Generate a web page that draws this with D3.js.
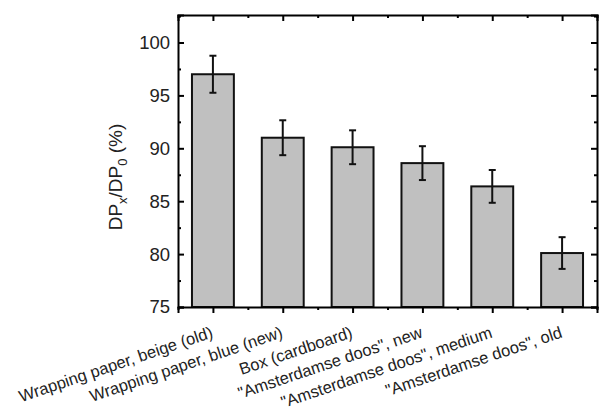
<!DOCTYPE html>
<html>
<head>
<meta charset="utf-8">
<script src="https://cdn.jsdelivr.net/npm/d3@7"></script>
<style>
  body { margin: 0; background: #fff; }
  text { font-family: "Liberation Sans", Arial, sans-serif; fill: #222; }
</style>
</head>
<body>
<div id="chart"></div>
<script>
// sample names, DP ratio and error
var categories = [
    "Wrapping paper, beige (old)",
    "Wrapping paper, blue (new)",
    "Box (cardboard)",
    "\"Amsterdamse doos\", new",
    "\"Amsterdamse doos\", medium",
    "\"Amsterdamse doos\", old"
];
var values = [97.0, 91.0, 90.1, 88.6, 86.4, 80.1];
var errors = [1.75, 1.65, 1.6, 1.6, 1.55, 1.5];
var yTicks = [75, 80, 85, 90, 95, 100];

var margin = { top: 15, right: 4, bottom: 105, left: 178 },
    width = 601 - margin.left - margin.right,
    height = 412 - margin.top - margin.bottom;

var svg = d3.select("#chart")
    .append("svg")
    .attr("width", 601)
    .attr("height", 412)
    .append("g")
    .attr("transform", "translate(" + margin.left + "," + margin.top + ")");

// x is numeric 1..6 like Origin does it
var x = d3.scaleLinear().domain([0.5, 6.5]).range([0, width]);
var y = d3.scaleLinear().domain([75, 102.6]).range([height, 0]);
var barW = x(1.3) - x(0.7);

var idx = categories.map(function (d, i) { return i + 1; });
var minorX = d3.range(0.5, 6.51, 0.5).filter(function (v) { return v % 1 != 0; });
var minorY = d3.range(77.5, 102.6, 5);

// bars
svg.append("g")
    .selectAll("rect")
    .data(values)
    .enter()
    .append("rect")
    .attr("x", function (d, i) { return x(i + 1) - barW / 2; })
    .attr("y", function (d) { return y(d); })
    .attr("width", barW)
    .attr("height", function (d) { return height - y(d); })
    .attr("fill", "#c0c0c0")
    .attr("stroke", "#111")
    .attr("stroke-width", 2);

// error bars
var eb = svg.append("g").attr("stroke", "#111").attr("stroke-width", 2);
values.forEach(function (v, i) {
    var cx = x(i + 1);
    eb.append("line").attr("x1", cx).attr("x2", cx).attr("y1", y(v + errors[i])).attr("y2", y(v - errors[i]));
    eb.append("line").attr("x1", cx - 3.5).attr("x2", cx + 3.5).attr("y1", y(v + errors[i])).attr("y2", y(v + errors[i]));
    eb.append("line").attr("x1", cx - 3.5).attr("x2", cx + 3.5).attr("y1", y(v - errors[i])).attr("y2", y(v - errors[i]));
});

// axes
svg.append("g")
    .attr("transform", "translate(0," + height + ")")
    .call(d3.axisBottom(x).tickValues(idx).tickSize(6).tickFormat(""))
    .call(function (g) { g.select(".domain").attr("stroke-width", 2); g.selectAll(".tick line").attr("stroke-width", 2); });
svg.append("g")
    .attr("transform", "translate(0," + height + ")")
    .call(d3.axisBottom(x).tickValues(minorX).tickSize(3).tickFormat(""))
    .call(function (g) { g.select(".domain").remove(); g.selectAll(".tick line").attr("stroke-width", 2); });

svg.append("g")
    .call(d3.axisTop(x).tickValues(idx).tickSize(-6).tickFormat(""))
    .call(function (g) { g.select(".domain").attr("stroke-width", 2); g.selectAll(".tick line").attr("stroke-width", 2); });
svg.append("g")
    .call(d3.axisTop(x).tickValues(minorX).tickSize(-3).tickFormat(""))
    .call(function (g) { g.select(".domain").remove(); g.selectAll(".tick line").attr("stroke-width", 2); });

svg.append("g")
    .call(d3.axisLeft(y).tickValues(yTicks).tickSize(-6).tickPadding(8).tickFormat(d3.format("d")))
    .call(function (g) {
        g.select(".domain").attr("stroke-width", 2);
        g.selectAll(".tick line").attr("stroke-width", 2);
        g.selectAll(".tick text").style("font-size", "18.5px");
    });
svg.append("g")
    .call(d3.axisLeft(y).tickValues(minorY).tickSize(-3).tickFormat(""))
    .call(function (g) { g.select(".domain").remove(); g.selectAll(".tick line").attr("stroke-width", 2); });

svg.append("g")
    .attr("transform", "translate(" + width + ",0)")
    .call(d3.axisRight(y).tickValues(yTicks).tickSize(-6).tickFormat(""))
    .call(function (g) { g.select(".domain").attr("stroke-width", 2); g.selectAll(".tick line").attr("stroke-width", 2); });
svg.append("g")
    .attr("transform", "translate(" + width + ",0)")
    .call(d3.axisRight(y).tickValues(minorY).tickSize(-3).tickFormat(""))
    .call(function (g) { g.select(".domain").remove(); g.selectAll(".tick line").attr("stroke-width", 2); });

// rotated category labels, anchored at their end
svg.append("g")
    .selectAll("text")
    .data(categories)
    .enter()
    .append("text")
    .attr("transform", function (d, i) { return "translate(" + (x(i + 1) + 1) + "," + (height + 30) + ")rotate(-18.7)"; })
    .attr("text-anchor", "end")
    .style("font-size", "16.5px")
    .text(function (d) { return d; });

// y label with subscripts
var yl = svg.append("text")
    .attr("transform", "translate(-56," + (height / 2 + 16) + ")rotate(-90)")
    .attr("text-anchor", "middle")
    .style("font-size", "19px");
yl.append("tspan").text("DP");
yl.append("tspan").attr("dy", 5).style("font-size", "13px").text("x");
yl.append("tspan").attr("dy", -5).text("/DP");
yl.append("tspan").attr("dy", 5).style("font-size", "13px").text("0");
yl.append("tspan").attr("dy", -5).text(" (%)");
</script>
</body>
</html>
